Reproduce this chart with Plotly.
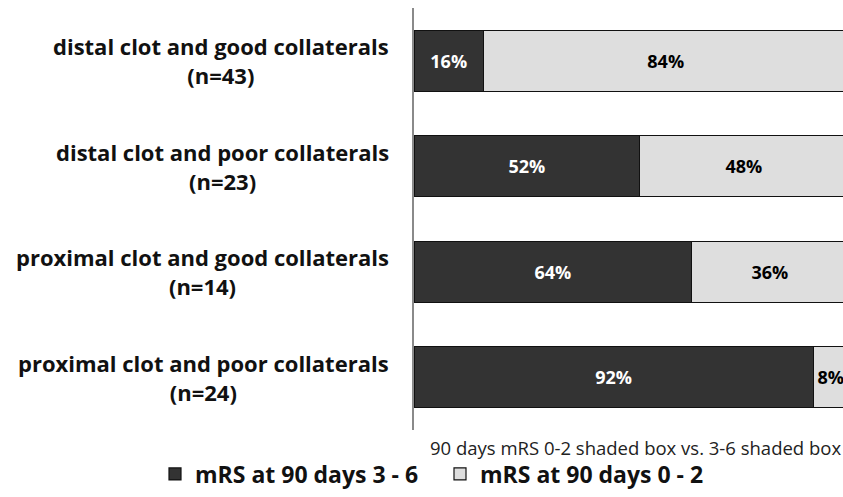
import plotly.graph_objects as go

categories = [
    "distal clot and good collaterals<br>(n=43)",
    "distal clot and poor collaterals<br>(n=23)",
    "proximal clot and good collaterals<br>(n=14)",
    "proximal clot and poor collaterals<br>(n=24)",
]
mrs_3_6 = [16, 52, 64, 92]
mrs_0_2 = [84, 48, 36, 8]
series_names = ["mRS at 90 days 3 - 6", "mRS at 90 days 0 - 2"]
axis_title = "90 days mRS 0-2 shaded box vs. 3-6 shaded box"

FONT = "'Open Sans', sans-serif"
W, H = 843, 497
X0 = 414           # left edge of the plot area (px)
T, B = 8, 67

fig = go.Figure()
fig.add_trace(go.Bar(
    y=categories, x=mrs_3_6, orientation="h", name="<b>" + series_names[0] + "</b>",
    marker=dict(color="#333333", line=dict(color="#111111", width=1.2)),
    texttemplate="<b>%{x}%</b>", textposition="inside", insidetextanchor="middle",
    textfont=dict(color="white", size=18, family=FONT),
))
fig.add_trace(go.Bar(
    y=categories, x=mrs_0_2, orientation="h", name="<b>" + series_names[1] + "</b>",
    marker=dict(color="#dedede", line=dict(color="#111111", width=1.2)),
    texttemplate="<b>%{x}%</b>", textposition="inside", insidetextanchor="middle",
    textfont=dict(color="black", size=18, family=FONT),
))

for c in categories:
    fig.add_annotation(
        xref="paper", yref="y", x=391 / W, y=c,
        text="<b>" + c + "</b>", showarrow=False, xanchor="right", align="center",
        font=dict(size=22, color="#111111", family=FONT),
    )

fig.add_annotation(
    xref="paper", yref="paper", x=1, y=-(447 - (H - B)) / (H - T - B),
    text=axis_title, showarrow=False, xanchor="right", yanchor="middle",
    font=dict(size=18.5, color="#222222", family=FONT),
)

fig.update_layout(
    width=W, height=H, barmode="stack", bargap=0.42,
    margin=dict(l=0, r=0, t=T, b=B),
    paper_bgcolor="white", plot_bgcolor="white",
    font=dict(family=FONT, color="#111111"),
    showlegend=True,
    legend=dict(
        orientation="h", xref="container", yref="container",
        x=155 / W, xanchor="left", y=(H - 474) / H, yanchor="middle",
        font=dict(size=23, family=FONT, color="#111111"),
        traceorder="normal", entrywidth=240, entrywidthmode="pixels",
    ),
    xaxis=dict(domain=[X0 / W, 1], range=[0, 98.85], showticklabels=False,
               showgrid=False, zeroline=False, showline=False, fixedrange=True),
    yaxis=dict(autorange="reversed", showticklabels=False, showgrid=False,
               zeroline=False, showline=True, linecolor="#8a8a8a", linewidth=1.5,
               ticks=""),
)
fig.write_html("out.html", config={"displayModeBar": False},
               post_script="document.body.style.margin='0';")
